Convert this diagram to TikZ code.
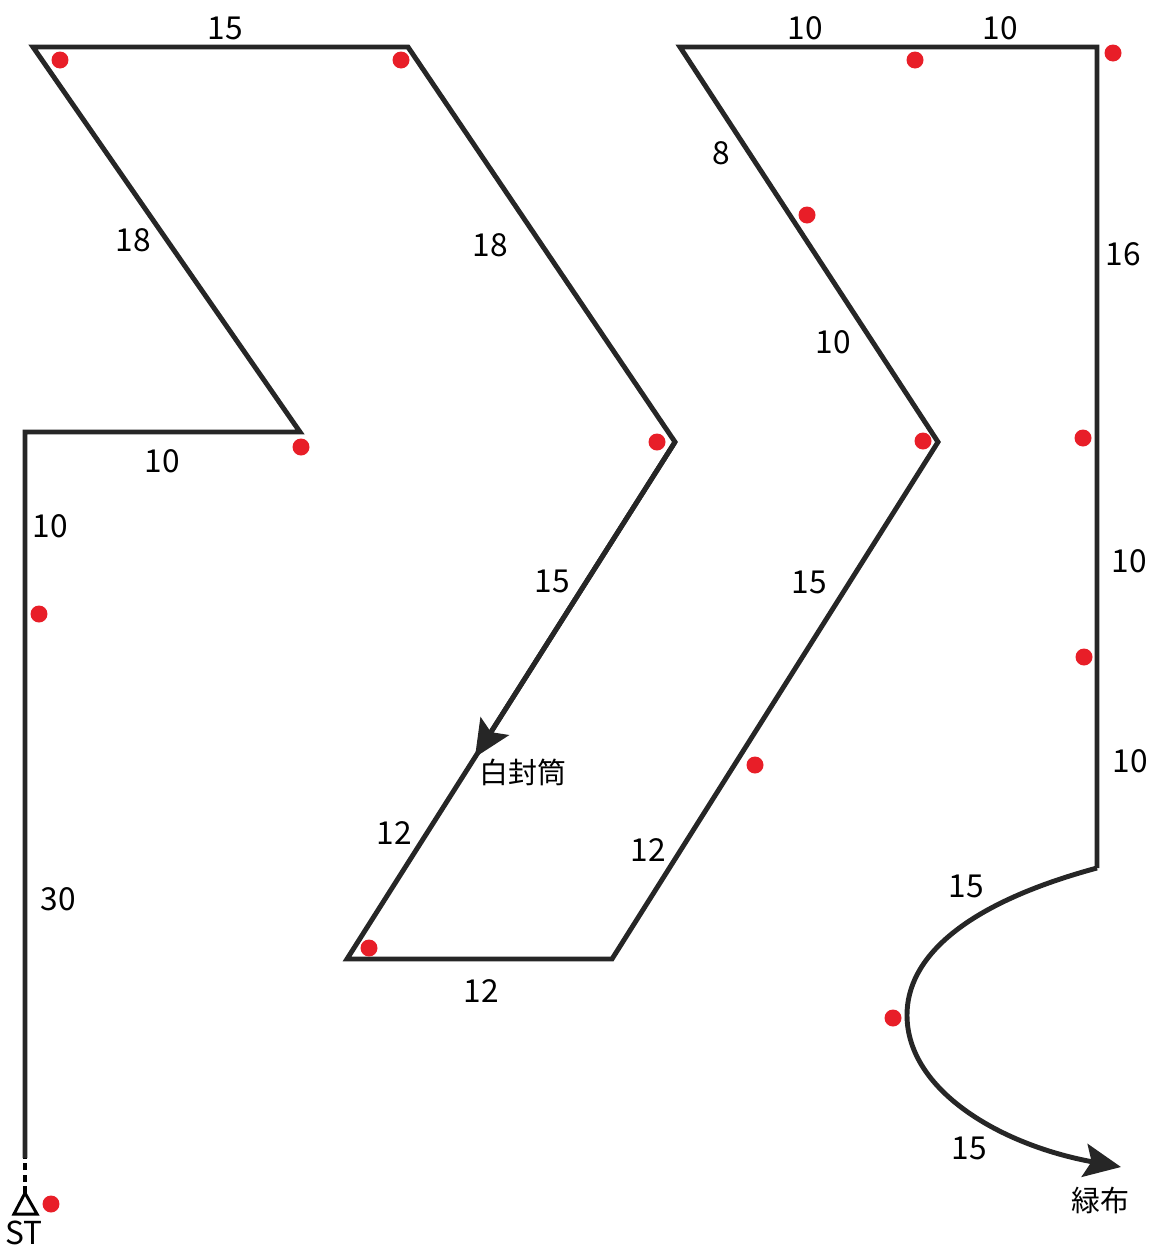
\documentclass[tikz,border=0pt]{standalone}
\usepackage{fontspec}
\setmainfont{Noto Sans CJK JP}
\usetikzlibrary{arrows.meta,calc}
\definecolor{cpred}{RGB}{232,30,40}

\begin{document}
\begin{tikzpicture}[x=0.02cm, y=-0.02cm,
  course/.style={line width=2.8pt, line join=miter, draw=black!85},
  dot/.style={circle, fill=cpred, inner sep=0pt, minimum size=0.34cm},
  len/.style={font=\fontsize{18}{18}\selectfont, inner sep=1pt},
  tag/.style={font=\fontsize{16.5}{16.5}\selectfont, inner sep=1pt},
  tip/.style={-{Stealth[length=21pt, width=19pt, inset=4pt]}}
]
\useasboundingbox (0,0) rectangle (1151,1248);

% corners of the course
\coordinate (st)  at (25,1193);
\coordinate (s0)  at (25,1158);
\coordinate (c1)  at (25,432);
\coordinate (c2)  at (300,432);
\coordinate (c3)  at (33,47);
\coordinate (c4)  at (408,47);
\coordinate (c5)  at (675,442);
\coordinate (c6)  at (347,959);
\coordinate (c7)  at (612,959);
\coordinate (c8)  at (938,442);
\coordinate (c9)  at (680,47);
\coordinate (c10) at (1097,47);
\coordinate (c11) at (1097,868);
\coordinate (env) at ($(c5)!0.61!(c6)$);
\coordinate (fin) at (1121,1167);

% start
\draw[line width=1.7pt] (st) -- ++(-11,21) -- ++(23,0) -- cycle;
\draw[line width=2.8pt, dash pattern=on 4pt off 2.5pt] (st) -- (s0);

% course
\draw[course] (s0) -- (c1) -- (c2) -- (c3) -- (c4) -- (c5) -- (c6) -- (c7)
  -- (c8) -- (c9) -- (c10) -- (c11);
\draw[course, tip] (c5) -- (env);
\draw[course, tip] (c11) .. controls (960,905) and (907,960) .. (907,1015)
  .. controls (907,1090) and (1000,1145) .. (fin);

% check points
\foreach \p [count=\i] in {(60,60),(401,60),(301,447),(657,442),(39,614),
  (369,948),(51,1204),(915,60),(1113,53),(807,215),(923,441),(1083,438),
  (1084,657),(755,765),(893,1018)}
  \node[dot] (d\i) at \p {};

% lengths
\node[len] (l1)  at (225,28)   {15};
\node[len] (l2)  at (133,240)  {18};
\node[len] (l3)  at (490,245)  {18};
\node[len] (l4)  at (162,461)  {10};
\node[len] (l5)  at (50,526)   {10};
\node[len] (l6)  at (58,899)   {30};
\node[len] (l7)  at (552,581)  {15};
\node[len] (l8)  at (394,833)  {12};
\node[len] (l9)  at (481,991)  {12};
\node[len] (l10) at (648,850)  {12};
\node[len] (l11) at (809,582)  {15};
\node[len] (l12) at (833,342)  {10};
\node[len] (l13) at (721,153)  {8};
\node[len] (l14) at (805,28)   {10};
\node[len] (l15) at (1000,28)  {10};
\node[len] (l16) at (1123,254) {16};
\node[len] (l17) at (1129,561) {10};
\node[len] (l18) at (1130,761) {10};
\node[len] (l19) at (966,886)  {15};
\node[len] (l20) at (969,1148) {15};

% marks
\node[tag] (env-t) at (523,772)  {白封筒};
\node[tag] (fin-t) at (1100,1200) {緑布};
\node[len] (st-t)  at (24,1233)  {ST};
\end{tikzpicture}
\end{document}
